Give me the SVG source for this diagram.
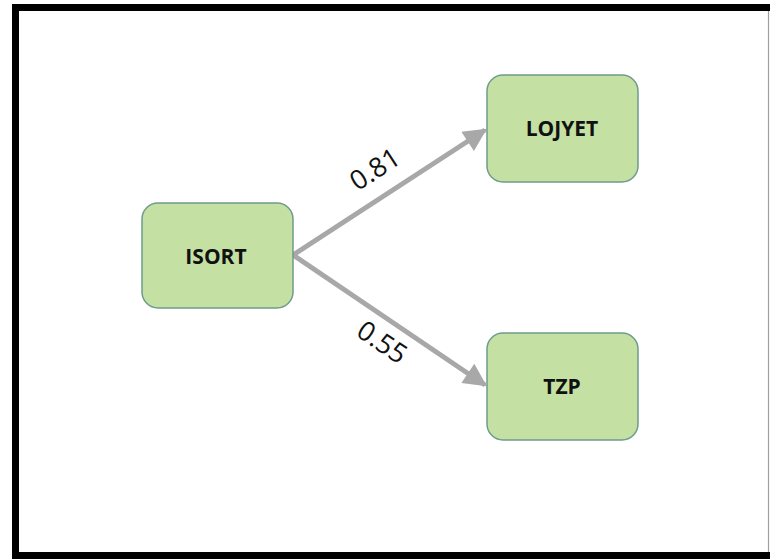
<svg xmlns="http://www.w3.org/2000/svg" width="770" height="559" viewBox="0 0 770 559">
  <style>
    .node rect { fill: #c4e0a2; stroke: #6e9c8c; stroke-width: 1.5; }
    .node text { font-family: "Open Sans", "Liberation Sans", sans-serif; font-weight: bold; font-size: 21px; fill: #111; text-anchor: middle; dominant-baseline: central; }
    .edge { stroke: #a8a8a8; stroke-width: 5; fill: none; }
    .weight { font-family: "Open Sans", "Liberation Sans", sans-serif; font-size: 27px; fill: #111; text-anchor: middle; }
    .frame { fill: #000; }
  </style>
  <defs>
    <marker id="arrow" viewBox="0 0 10 10" refX="9" refY="5" markerWidth="5" markerHeight="4.6" markerUnits="strokeWidth" orient="auto">
      <path d="M0,0 L10,5 L0,10 Z" fill="#a8a8a8"/>
    </marker>
  </defs>

  <!-- page background and frame -->
  <rect x="0" y="0" width="770" height="559" fill="#ffffff"/>
  <rect class="frame" x="12" y="4" width="758" height="7"/>
  <rect class="frame" x="12" y="4" width="7" height="555"/>
  <rect class="frame" x="12" y="552" width="758" height="7"/>
  <line x1="768.5" y1="11" x2="768.5" y2="552" stroke="#a0a0a0" stroke-width="1.2"/>

  <!-- connectors -->
  <g id="connectors">
    <line class="edge" x1="293" y1="255" x2="485" y2="130" marker-end="url(#arrow)"/>
    <line class="edge" x1="293" y1="255" x2="485" y2="385" marker-end="url(#arrow)"/>
    <text class="weight" transform="translate(380,177) rotate(-33)">0.81</text>
    <text class="weight" transform="translate(377,350) rotate(34)">0.55</text>
  </g>

  <g id="node-isort" class="node">
    <rect x="142" y="203" width="151" height="105" rx="16"/>
    <text x="216" y="256">ISORT</text>
  </g>
  <g id="node-lojyet" class="node">
    <rect x="487" y="75" width="151" height="107" rx="16"/>
    <text x="562" y="128">LOJYET</text>
  </g>
  <g id="node-tzp" class="node">
    <rect x="487" y="333" width="151" height="107" rx="16"/>
    <text x="562" y="386">TZP</text>
  </g>
</svg>
